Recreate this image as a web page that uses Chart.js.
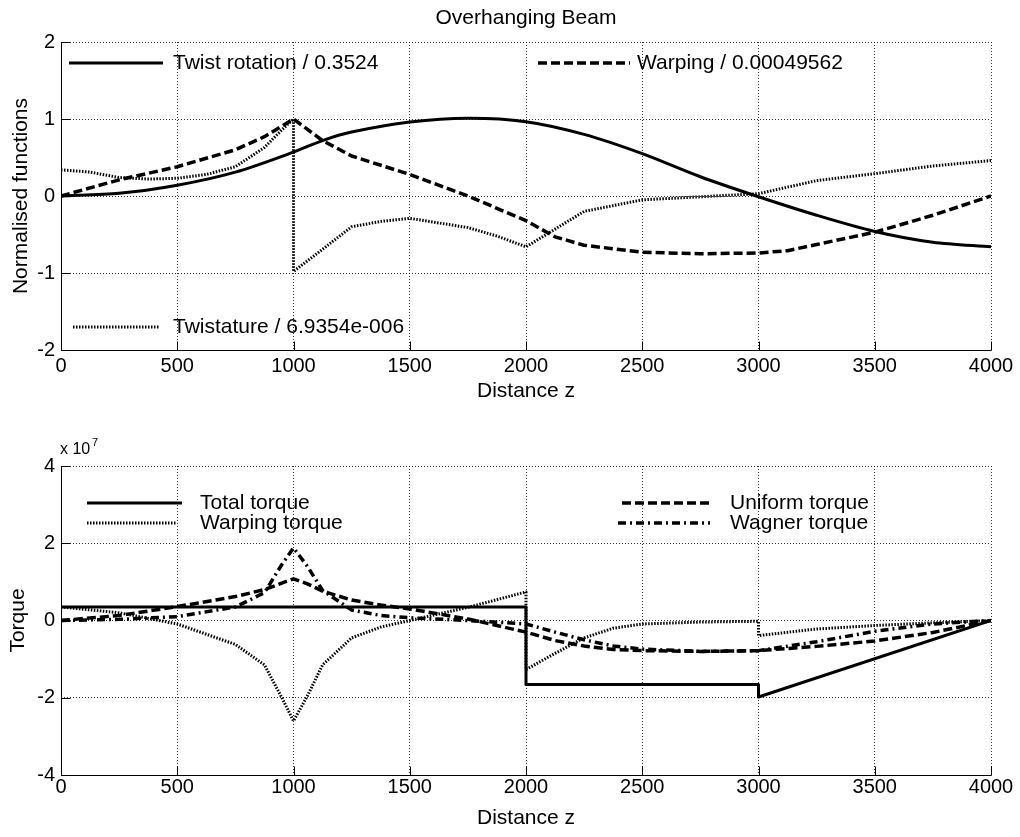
<!DOCTYPE html>
<html><head><meta charset="utf-8">
<script src="https://cdn.jsdelivr.net/npm/chart.js@4.4.0/dist/chart.umd.min.js"></script>
<style>
html,body{margin:0;padding:0;background:#fff;}
#wrap{position:relative;width:1020px;height:837px;background:#fff;}
canvas{position:absolute;left:0;}
#c1{top:0;} #c2{top:410px;}
</style></head><body>
<div id="wrap"><canvas id="c1" width="1020" height="410"></canvas><canvas id="c2" width="1020" height="427"></canvas></div>
<script>
// ---------- DATA ----------
const xTickValues = [0,500,1000,1500,2000,2500,3000,3500,4000];
const yTickTop = [-2,-1,0,1,2];
const yTickBottom = [-4,-2,0,2,4];   // x 10^7

// Top plot: normalised functions
const zTwist = [0,250,500,750,1000,1125,1250,1500,1750,2000,2250,2500,2750,3000,3250,3500,3750,4000];
const twistRot = [0,0.035,0.14,0.31,0.57,0.72,0.83,0.96,1.01,0.965,0.8,0.55,0.25,-0.01,-0.25,-0.46,-0.6,-0.66];

const zWarp = [0,250,500,750,875,1000,1125,1250,1500,1750,2000,2125,2250,2500,2750,3000,3125,3250,3500,3750,4000];
const warping = [0,0.21,0.38,0.6,0.77,1.0,0.72,0.52,0.28,0.0,-0.32,-0.53,-0.64,-0.73,-0.75,-0.74,-0.71,-0.63,-0.47,-0.25,0];

const zTws = [0,125,250,375,500,625,750,875,950,1000,1000,1100,1250,1375,1500,1750,1875,2000,2125,2250,2500,2750,3000,3250,3500,3750,4000];
const twistature = [0.34,0.31,0.24,0.22,0.23,0.28,0.38,0.63,0.86,1.0,-0.98,-0.75,-0.4,-0.33,-0.29,-0.41,-0.52,-0.66,-0.43,-0.2,-0.05,-0.01,0.03,0.2,0.29,0.39,0.46];

// Bottom plot: torques (units of 10^7)
const zTot = [0,2000,2000,3000,3000,4000];
const totalTorque = [0.35,0.35,-1.66,-1.66,-1.98,0];

const zUni = [0,250,500,750,875,1000,1060,1125,1250,1375,1500,1750,2000,2125,2250,2375,2500,2750,3000,3250,3500,3750,4000];
const uniformTorque = [0,0.13,0.36,0.62,0.8,1.08,0.95,0.76,0.53,0.4,0.3,0.04,-0.3,-0.52,-0.66,-0.75,-0.78,-0.8,-0.78,-0.67,-0.53,-0.31,0];

const zWag = [0,250,500,750,875,950,1000,1060,1125,1250,1375,1500,1750,2000,2125,2250,2375,2500,2750,3000,3250,3500,3750,4000];
const wagnerTorque = [0,0.03,0.1,0.35,0.72,1.45,1.88,1.4,0.78,0.27,0.13,0.07,0.0,-0.09,-0.3,-0.5,-0.66,-0.74,-0.8,-0.78,-0.55,-0.28,-0.09,0];

const zWt = [0,250,500,750,875,950,1000,1060,1125,1250,1375,1500,1750,2000,2000,2125,2250,2375,2500,2750,3000,3000,3250,3500,3750,4000];
const warpingTorque = [0.35,0.2,-0.09,-0.62,-1.15,-2.0,-2.6,-1.95,-1.15,-0.45,-0.17,0.0,0.34,0.74,-1.27,-0.85,-0.45,-0.2,-0.09,-0.04,-0.02,-0.39,-0.22,-0.13,-0.06,0];

// ---------- STYLE ----------
const FONT = '"Liberation Sans", Arial, Helvetica, sans-serif';
Chart.defaults.font.family = FONT;
Chart.defaults.color = '#000';

const pts = (xs, ys) => xs.map((x, i) => ({x, y: ys[i]}));
const SOLID = [], DASH = [9,4], DOT = [1.5,1.5], DASHDOT = [8,4,2,4];

function ds(label, xs, ys, dash, width, tension) {
  return {label, data: pts(xs, ys), borderColor: '#000', backgroundColor: '#000',
    borderDash: dash, borderWidth: width, pointRadius: 0, tension: tension || 0,
    borderCapStyle: 'butt', borderJoinStyle: 'round', fill: false};
}

function matlabPlugin(legendItems, extraDraw) {
  return {
    id: 'matlabAxes',
    afterDatasetsDraw(chart) {
      const {ctx, chartArea: a, scales: {x, y}} = chart;
      ctx.save();
      ctx.strokeStyle = '#000'; ctx.lineWidth = 1; ctx.setLineDash([]);
      ctx.beginPath();
      const L = Math.round(a.left) + 0.5, B = Math.round(a.bottom) + 0.5;
      ctx.moveTo(L, a.top); ctx.lineTo(L, B); ctx.lineTo(a.right + 0.5, B);
      x.ticks.forEach(t => { const px = Math.round(x.getPixelForValue(t.value)) + 0.5; ctx.moveTo(px, B); ctx.lineTo(px, B - 9); });
      y.ticks.forEach(t => { const py = Math.round(y.getPixelForValue(t.value)) + 0.5; ctx.moveTo(L, py); ctx.lineTo(L + 9, py); });
      ctx.stroke();
      // legend
      ctx.font = '21px ' + FONT; ctx.fillStyle = '#000'; ctx.textBaseline = 'middle'; ctx.textAlign = 'left';
      legendItems.forEach(it => {
        const d = chart.data.datasets[it.i];
        ctx.save();
        ctx.lineWidth = d.borderWidth; ctx.setLineDash(d.borderDash); ctx.lineCap = 'butt';
        ctx.beginPath(); ctx.moveTo(it.x0, it.y); ctx.lineTo(it.x1, it.y); ctx.stroke();
        ctx.restore();
        ctx.fillText(d.label, it.tx, it.y);
      });
      if (extraDraw) extraDraw(ctx, chart);
      ctx.restore();
    }
  };
}

function makeOptions(yTicks, yTitle, chartTop, xScaleH, tickPad, xTitlePad, title) {
  return {
    responsive: false, animation: false, devicePixelRatio: 1,
    layout: {padding: {top: title ? 0 : chartTop, right: 29, left: 0, bottom: 0}},
    plugins: {
      legend: {display: false}, tooltip: {enabled: false},
      title: title ? {display: true, text: title, fullSize: false, color: '#000',
        font: {size: 21, weight: 'normal', family: FONT}, padding: {top: 5.4, bottom: chartTop - 25.2 - 5.4}} : {display: false}
    },
    scales: {
      x: {type: 'linear', min: 0, max: 4000,
        afterBuildTicks: s => { s.ticks = xTickValues.map(v => ({value: v})); },
        afterFit: s => { s.height = xScaleH; s.paddingLeft = 0; s.paddingRight = 0; },
        grid: {color: 'rgba(0,0,0,0.8)', lineWidth: 1, drawTicks: false},
        border: {display: false, dash: [1,2]},
        ticks: {padding: tickPad, maxRotation: 0, font: {size: 20}, color: '#000', callback: v => String(v)},
        title: {display: true, text: 'Distance z', font: {size: 21}, color: '#000', padding: {top: 0, bottom: xTitlePad}}
      },
      y: {type: 'linear', min: yTicks[0], max: yTicks[yTicks.length - 1],
        afterBuildTicks: s => { s.ticks = yTicks.map(v => ({value: v})); },
        afterFit: s => { s.width = 61; s.paddingTop = 0; s.paddingBottom = 0; },
        grid: {color: 'rgba(0,0,0,0.8)', lineWidth: 1, drawTicks: false},
        border: {display: false, dash: [1,2]},
        ticks: {padding: 6, font: {size: 20}, color: '#000', callback: v => String(v)},
        title: {display: true, text: yTitle, font: {size: 21}, color: '#000', padding: {top: 9, bottom: 0}}
      }
    }
  };
}

// Top chart
new Chart(document.getElementById('c1'), {
  type: 'line',
  data: {datasets: [
    ds('Twist rotation / 0.3524', zTwist, twistRot, SOLID, 3, 0.3),
    ds('Warping / 0.00049562', zWarp, warping, DASH, 3.5, 0),
    ds('Twistature / 6.9354e-006', zTws, twistature, DOT, 3, 0)
  ]},
  options: makeOptions(yTickTop, 'Normalised functions', 42, 60, 4, 6.4, 'Overhanging Beam'),
  plugins: [matlabPlugin([
    {i: 0, x0: 69, x1: 163, y: 63, tx: 173},
    {i: 1, x0: 538, x1: 630, y: 63, tx: 637},
    {i: 2, x0: 73, x1: 160, y: 327, tx: 173}
  ])]
});

// Bottom chart
const opt2 = makeOptions(yTickBottom, 'Torque', 56, 62, 0, 6.4, null);
opt2.scales.y.title.padding = {top: 5.4, bottom: 0};
new Chart(document.getElementById('c2'), {
  type: 'line',
  data: {datasets: [
    ds('Total torque', zTot, totalTorque, SOLID, 3, 0),
    ds('Uniform torque', zUni, uniformTorque, DASH, 3.5, 0),
    ds('Warping torque', zWt, warpingTorque, DOT, 3, 0),
    ds('Wagner torque', zWag, wagnerTorque, DASHDOT, 3.5, 0)
  ]},
  options: opt2,
  plugins: [matlabPlugin([
    {i: 0, x0: 87, x1: 182, y: 93, tx: 200},
    {i: 2, x0: 87, x1: 177, y: 113, tx: 200},
    {i: 1, x0: 622, x1: 712, y: 93, tx: 730},
    {i: 3, x0: 618, x1: 710, y: 113, tx: 730}
  ], (ctx) => {
    ctx.font = '16px ' + FONT; ctx.textBaseline = 'middle'; ctx.fillText('x 10', 60, 40);
    ctx.font = '11px ' + FONT; ctx.fillText('7', 92, 33);
  })]
});
</script>
</body></html>
